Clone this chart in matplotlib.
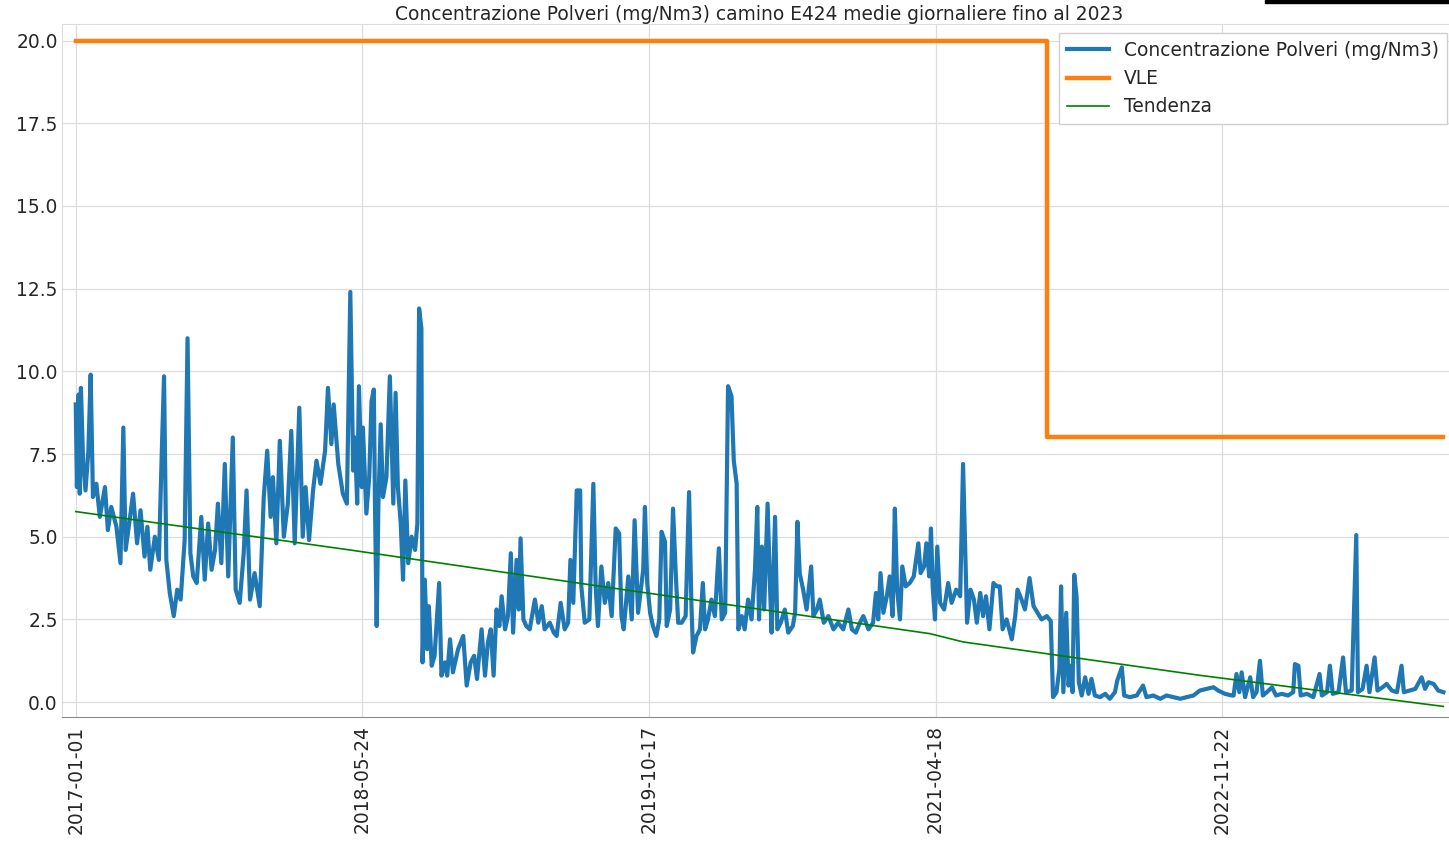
import matplotlib
matplotlib.use("Agg")
import matplotlib.pyplot as plt
from matplotlib.patches import Rectangle

# giorno = progressive index of the daily record (ticks every 500 records)
giorni = [
    0, 2, 5, 7, 9, 13, 17, 22, 26, 30,
    36, 42, 51, 56, 62, 71, 78, 83, 87, 94,
    100, 107, 113, 120, 125, 130, 138, 145, 150, 154,
    158, 164, 171, 177, 183, 190, 195, 200, 205, 211,
    219, 225, 231, 237, 243, 248, 254, 260, 266, 274,
    279, 286, 293, 298, 304, 312, 321, 328, 334, 340,
    344, 350, 356, 363, 370, 376, 382, 390, 396, 401,
    407, 414, 420, 427, 435, 440, 446, 450, 458, 466,
    473, 479, 484, 487, 491, 494, 499, 501, 507, 512,
    516, 520, 522, 525, 528, 532, 536, 542, 548, 554,
    558, 562, 567, 571, 575, 580, 586, 592, 596, 599,
    603, 605, 609, 613, 616, 621, 626, 630, 634, 638,
    644, 648, 653, 658, 667, 676, 682, 689, 695, 700,
    708, 714, 719, 724, 729, 734, 739, 743, 749, 754,
    759, 763, 769, 773, 776, 781, 786, 792, 801, 807,
    813, 818, 827, 834, 839, 846, 853, 859, 863, 868,
    874, 880, 882, 888, 896, 903, 907, 911, 917, 923,
    929, 935, 942, 948, 952, 956, 964, 970, 975, 981,
    990, 993, 997, 1002, 1007, 1013, 1018, 1022, 1028, 1031,
    1037, 1042, 1047, 1051, 1057, 1064, 1070, 1074, 1077, 1083,
    1089, 1094, 1098, 1103, 1109, 1115, 1122, 1127, 1133, 1138,
    1144, 1148, 1153, 1156, 1162, 1167, 1173, 1179, 1185, 1189,
    1192, 1197, 1201, 1207, 1211, 1214, 1220, 1224, 1230, 1237,
    1243, 1251, 1255, 1259, 1263, 1269, 1275, 1283, 1287, 1293,
    1298, 1305, 1313, 1322, 1330, 1339, 1348, 1354, 1361, 1368,
    1374, 1383, 1391, 1396, 1400, 1404, 1409, 1415, 1420, 1425,
    1429, 1433, 1438, 1442, 1448, 1455, 1462, 1470, 1474, 1480,
    1484, 1489, 1492, 1495, 1499, 1503, 1508, 1515, 1522, 1528,
    1536, 1543, 1548, 1552, 1555, 1561, 1567, 1572, 1578, 1583,
    1588, 1594, 1601, 1607, 1612, 1617, 1624, 1633, 1639, 1643,
    1650, 1656, 1664, 1671, 1678, 1685, 1694, 1701, 1705, 1711,
    1716, 1719, 1723, 1728, 1732, 1736, 1739, 1742, 1746, 1750,
    1755, 1761, 1767, 1772, 1778, 1787, 1796, 1804, 1813, 1817,
    1825, 1829, 1839, 1851, 1862, 1868, 1880, 1892, 1903, 1915,
    1927, 1938, 1950, 1961, 1973, 1985, 1993, 2005, 2017, 2020,
    2025, 2030, 2034, 2040, 2049, 2054, 2060, 2066, 2071, 2078,
    2087, 2094, 2104, 2115, 2124, 2127, 2133, 2137, 2148, 2159,
    2170, 2174, 2183, 2188, 2193, 2203, 2211, 2216, 2226, 2234,
    2237, 2245, 2252, 2257, 2266, 2271, 2280, 2287, 2296, 2305,
    2313, 2317, 2327, 2337, 2348, 2354, 2360, 2369, 2377, 2386,
]

polveri = [
    9.0, 6.5, 9.3, 6.3, 9.5, 7.2, 6.4, 7.6, 9.9, 6.2,
    6.6, 5.6, 6.5, 5.2, 5.9, 5.3, 4.2, 8.3, 4.6, 5.5,
    6.3, 4.8, 5.8, 4.4, 5.3, 4.0, 5.0, 4.3, 7.5, 9.85,
    4.3, 3.3, 2.6, 3.4, 3.1, 4.9, 11.0, 4.5, 3.8, 3.6,
    5.6, 3.7, 5.4, 4.0, 4.6, 6.0, 4.2, 7.2, 3.8, 8.0,
    3.4, 3.0, 4.5, 6.4, 3.1, 3.9, 2.9, 6.2, 7.6, 5.6,
    6.8, 4.8, 7.9, 5.0, 6.0, 8.2, 4.8, 8.9, 5.0, 6.5,
    4.9, 6.4, 7.3, 6.6, 7.6, 9.5, 7.8, 9.0, 7.2, 6.3,
    6.0, 12.4, 7.0, 8.0, 6.0, 9.55, 6.5, 8.3, 5.7, 6.8,
    9.1, 9.45, 6.0, 2.3, 6.0, 8.4, 6.2, 6.8, 9.85, 6.0,
    9.35, 6.5, 5.4, 3.7, 6.7, 4.2, 5.0, 4.6, 5.4, 11.9,
    11.3, 1.2, 3.7, 1.6, 2.9, 1.1, 1.4, 2.5, 3.6, 0.8,
    1.2, 0.8, 1.9, 0.9, 1.6, 2.0, 0.5, 1.2, 1.4, 0.7,
    2.2, 0.8, 1.8, 2.2, 0.8, 2.8, 2.3, 3.2, 2.2, 2.6,
    4.5, 2.1, 4.3, 2.8, 4.95, 2.5, 2.3, 2.2, 3.1, 2.4,
    2.9, 2.2, 2.4, 2.1, 2.0, 3.0, 2.2, 2.4, 4.3, 3.0,
    6.4, 6.4, 3.5, 2.4, 2.5, 6.6, 3.5, 2.3, 4.1, 3.0,
    3.6, 2.6, 5.25, 5.1, 2.6, 2.2, 3.8, 2.5, 5.5, 2.7,
    4.0, 5.9, 3.6, 2.7, 2.3, 2.0, 2.5, 5.15, 4.85, 2.3,
    2.8, 5.85, 3.8, 2.4, 2.4, 2.6, 6.35, 3.0, 1.5, 2.0,
    2.2, 3.6, 2.2, 2.5, 3.1, 2.6, 4.65, 2.5, 2.7, 9.55,
    9.25, 7.3, 6.6, 2.2, 2.6, 2.2, 3.1, 2.5, 4.0, 5.9,
    2.5, 4.7, 2.8, 6.0, 3.6, 2.1, 5.6, 2.2, 2.4, 2.8,
    2.1, 2.3, 2.7, 5.45, 3.9, 3.4, 2.8, 4.1, 2.6, 2.8,
    3.1, 2.4, 2.6, 2.2, 2.4, 2.2, 2.8, 2.2, 2.1, 2.4,
    2.6, 2.2, 2.4, 3.3, 2.5, 3.9, 2.7, 3.2, 3.8, 2.6,
    5.85, 3.4, 2.5, 4.1, 3.5, 3.6, 3.8, 4.8, 3.9, 4.1,
    4.8, 3.8, 5.25, 3.5, 2.5, 4.7, 3.0, 2.8, 3.6, 3.0,
    3.4, 3.2, 7.2, 4.5, 2.4, 3.4, 3.1, 2.4, 3.3, 2.6,
    3.2, 2.2, 3.6, 3.5, 3.5, 2.2, 2.5, 1.9, 2.6, 3.4,
    3.1, 2.8, 3.75, 2.9, 2.7, 2.5, 2.6, 2.45, 0.15, 0.3,
    1.0, 3.5, 0.3, 2.7, 0.5, 1.1, 0.3, 3.85, 3.2, 0.6,
    0.2, 0.75, 0.25, 0.7, 0.2, 0.15, 0.25, 0.1, 0.3, 0.65,
    1.05, 0.2, 0.15, 0.2, 0.5, 0.15, 0.2, 0.1, 0.2, 0.15,
    0.1, 0.15, 0.2, 0.35, 0.4, 0.45, 0.35, 0.25, 0.2, 0.2,
    0.85, 0.3, 0.9, 0.15, 0.75, 0.15, 0.3, 1.25, 0.2, 0.3,
    0.45, 0.2, 0.25, 0.2, 0.3, 1.15, 1.1, 0.2, 0.25, 0.15,
    0.85, 0.2, 0.3, 1.1, 0.25, 0.3, 1.35, 0.3, 0.35, 5.05,
    0.3, 0.4, 1.1, 0.3, 1.35, 0.35, 0.45, 0.55, 0.35, 0.3,
    1.1, 0.3, 0.35, 0.4, 0.75, 0.4, 0.6, 0.55, 0.35, 0.3,
]

# limite di emissione (VLE), a gradino
vle_giorni = [0, 1694, 2386]
vle_valori = [20.0, 8.0, 8.0]

# tendenza
trend_giorni = [0, 478, 984, 1490, 1548, 1961, 2386]
trend_valori = [5.76, 4.6, 3.33, 2.07, 1.82, 0.81, -0.13]

tick_giorni = [0, 500, 1000, 1500, 2000]
tick_date = ["2017-01-01", "2018-05-24", "2019-10-17", "2021-04-18", "2022-11-22"]
y_ticks = [0.0, 2.5, 5.0, 7.5, 10.0, 12.5, 15.0, 17.5, 20.0]

titolo = "Concentrazione Polveri (mg/Nm3) camino E424 medie giornaliere fino al 2023"

plt.rcParams["font.family"] = "DejaVu Sans"
plt.rcParams["text.color"] = "#262626"

fig = plt.figure(figsize=(14.49, 8.41), dpi=100)
ax = fig.add_axes([62 / 1449, 1 - 717 / 841, (1456 - 62) / 1449, (717 - 24) / 841])

ax.plot(giorni, polveri, color="#1f77b4", lw=3.0, label="Concentrazione Polveri (mg/Nm3)")
ax.plot(vle_giorni, vle_valori, color="#ff7f0e", lw=3.2, drawstyle="steps-post", label="VLE")
ax.plot(trend_giorni, trend_valori, color="green", lw=1.2, label="Tendenza")

ax.set_xlim(-24, 2408)
ax.set_ylim(-0.45, 20.5)
ax.set_xticks(tick_giorni)
ax.set_xticklabels(tick_date, rotation=90)
ax.set_yticks(y_ticks)
ax.set_yticklabels([f"{v:.1f}" for v in y_ticks])
ax.tick_params(axis="both", length=0, labelsize=13.4, colors="#262626")
ax.tick_params(axis="x", pad=6)
ax.tick_params(axis="y", pad=3)

ax.grid(True, color="#dddddd", lw=0.9)
ax.set_axisbelow(True)
for side in ["left", "top", "right"]:
    ax.spines[side].set_color("#dddddd")
ax.spines["bottom"].set_color("#8a8a8a")

ax.set_title(titolo, fontsize=13.4, pad=3)

leg = ax.legend(loc="upper right", fontsize=13.4, fancybox=False, framealpha=1.0,
                edgecolor="#d0d0d0", handlelength=2.3)

# striscia nera in alto a destra presente nell'immagine originale
fig.patches.append(Rectangle((1265 / 1449, 1 - 3 / 841), 184 / 1449, 3 / 841,
                             transform=fig.transFigure, color="black", zorder=5))

fig.savefig("out.png", dpi=100)
